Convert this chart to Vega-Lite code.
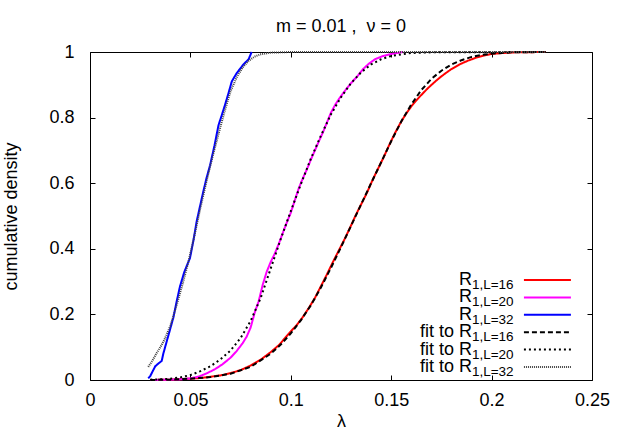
{
  "$schema": "https://vega.github.io/schema/vega-lite/v6.json",
  "autosize": {"type": "none"},
  "padding": {"left": 90, "top": 52, "right": 31, "bottom": 56},
  "width": 502,
  "height": 328,
  "background": "white",
  "title": {"text": "m = 0.01 ,\u00a0 ν = 0", "font": "Liberation Sans", "fontSize": 18, "fontWeight": "normal", "color": "black", "anchor": "middle", "baseline": "alphabetic", "offset": -7},
  "config": {
    "view": {"stroke": "black", "strokeWidth": 1},
    "axis": {"grid": false, "domain": false, "labelFont": "Liberation Sans", "titleFont": "Liberation Sans", "labelFontSize": 18, "titleFontSize": 18, "titleFontWeight": "normal", "labelColor": "black", "titleColor": "black", "tickColor": "black", "tickSize": -5, "tickWidth": 1, "labelFlush": false, "labelOverlap": false}
  },
  "layer": [
    {
      "data": {"values": [
        {"series":"R16","lam":0.030,"cd":0.000},{"series":"R16","lam":0.040,"cd":0.001},{"series":"R16","lam":0.050,"cd":0.004},{"series":"R16","lam":0.055,"cd":0.006},{"series":"R16","lam":0.060,"cd":0.010},{"series":"R16","lam":0.065,"cd":0.014},{"series":"R16","lam":0.070,"cd":0.021},{"series":"R16","lam":0.075,"cd":0.030},{"series":"R16","lam":0.080,"cd":0.044},{"series":"R16","lam":0.085,"cd":0.062},{"series":"R16","lam":0.090,"cd":0.085},{"series":"R16","lam":0.094,"cd":0.106},{"series":"R16","lam":0.097,"cd":0.127},{"series":"R16","lam":0.100,"cd":0.148},{"series":"R16","lam":0.103,"cd":0.168},{"series":"R16","lam":0.106,"cd":0.192},{"series":"R16","lam":0.109,"cd":0.220},{"series":"R16","lam":0.112,"cd":0.250},{"series":"R16","lam":0.115,"cd":0.286},{"series":"R16","lam":0.118,"cd":0.322},{"series":"R16","lam":0.121,"cd":0.360},{"series":"R16","lam":0.124,"cd":0.396},{"series":"R16","lam":0.127,"cd":0.432},{"series":"R16","lam":0.130,"cd":0.471},{"series":"R16","lam":0.132,"cd":0.498},{"series":"R16","lam":0.134,"cd":0.523},{"series":"R16","lam":0.136,"cd":0.547},{"series":"R16","lam":0.138,"cd":0.572},{"series":"R16","lam":0.140,"cd":0.600},{"series":"R16","lam":0.142,"cd":0.626},{"series":"R16","lam":0.144,"cd":0.651},{"series":"R16","lam":0.146,"cd":0.676},{"series":"R16","lam":0.148,"cd":0.703},{"series":"R16","lam":0.150,"cd":0.729},{"series":"R16","lam":0.152,"cd":0.754},{"series":"R16","lam":0.154,"cd":0.777},{"series":"R16","lam":0.156,"cd":0.798},{"series":"R16","lam":0.158,"cd":0.817},{"series":"R16","lam":0.160,"cd":0.834},{"series":"R16","lam":0.162,"cd":0.849},{"series":"R16","lam":0.165,"cd":0.869},{"series":"R16","lam":0.168,"cd":0.888},{"series":"R16","lam":0.171,"cd":0.905},{"series":"R16","lam":0.174,"cd":0.921},{"series":"R16","lam":0.177,"cd":0.935},{"series":"R16","lam":0.180,"cd":0.948},{"series":"R16","lam":0.184,"cd":0.962},{"series":"R16","lam":0.188,"cd":0.973},{"series":"R16","lam":0.192,"cd":0.982},{"series":"R16","lam":0.196,"cd":0.989},{"series":"R16","lam":0.200,"cd":0.994},{"series":"R16","lam":0.206,"cd":0.997},{"series":"R16","lam":0.212,"cd":0.999},{"series":"R16","lam":0.227,"cd":1.000},
        {"series":"R20","lam":0.030,"cd":0.000},{"series":"R20","lam":0.040,"cd":0.001},{"series":"R20","lam":0.045,"cd":0.002},{"series":"R20","lam":0.050,"cd":0.005},{"series":"R20","lam":0.054,"cd":0.010},{"series":"R20","lam":0.058,"cd":0.020},{"series":"R20","lam":0.062,"cd":0.032},{"series":"R20","lam":0.066,"cd":0.048},{"series":"R20","lam":0.070,"cd":0.068},{"series":"R20","lam":0.073,"cd":0.088},{"series":"R20","lam":0.076,"cd":0.112},{"series":"R20","lam":0.078,"cd":0.132},{"series":"R20","lam":0.080,"cd":0.160},{"series":"R20","lam":0.082,"cd":0.205},{"series":"R20","lam":0.084,"cd":0.240},{"series":"R20","lam":0.086,"cd":0.290},{"series":"R20","lam":0.088,"cd":0.330},{"series":"R20","lam":0.090,"cd":0.360},{"series":"R20","lam":0.092,"cd":0.385},{"series":"R20","lam":0.094,"cd":0.415},{"series":"R20","lam":0.096,"cd":0.448},{"series":"R20","lam":0.098,"cd":0.480},{"series":"R20","lam":0.100,"cd":0.510},{"series":"R20","lam":0.102,"cd":0.548},{"series":"R20","lam":0.104,"cd":0.585},{"series":"R20","lam":0.106,"cd":0.615},{"series":"R20","lam":0.108,"cd":0.642},{"series":"R20","lam":0.110,"cd":0.672},{"series":"R20","lam":0.112,"cd":0.700},{"series":"R20","lam":0.114,"cd":0.728},{"series":"R20","lam":0.116,"cd":0.755},{"series":"R20","lam":0.118,"cd":0.785},{"series":"R20","lam":0.120,"cd":0.815},{"series":"R20","lam":0.122,"cd":0.838},{"series":"R20","lam":0.124,"cd":0.857},{"series":"R20","lam":0.126,"cd":0.874},{"series":"R20","lam":0.128,"cd":0.890},{"series":"R20","lam":0.130,"cd":0.905},{"series":"R20","lam":0.133,"cd":0.925},{"series":"R20","lam":0.136,"cd":0.948},{"series":"R20","lam":0.139,"cd":0.965},{"series":"R20","lam":0.142,"cd":0.978},{"series":"R20","lam":0.146,"cd":0.988},{"series":"R20","lam":0.150,"cd":0.994},{"series":"R20","lam":0.156,"cd":1.000},
        {"series":"R32","lam":0.0290,"cd":0.005},{"series":"R32","lam":0.0300,"cd":0.012},{"series":"R32","lam":0.0315,"cd":0.030},{"series":"R32","lam":0.0325,"cd":0.042},{"series":"R32","lam":0.0340,"cd":0.050},{"series":"R32","lam":0.0357,"cd":0.058},{"series":"R32","lam":0.0365,"cd":0.080},{"series":"R32","lam":0.0374,"cd":0.100},{"series":"R32","lam":0.0390,"cd":0.135},{"series":"R32","lam":0.0415,"cd":0.190},{"series":"R32","lam":0.0430,"cd":0.235},{"series":"R32","lam":0.0448,"cd":0.285},{"series":"R32","lam":0.0470,"cd":0.330},{"series":"R32","lam":0.0498,"cd":0.372},{"series":"R32","lam":0.0515,"cd":0.425},{"series":"R32","lam":0.0531,"cd":0.483},{"series":"R32","lam":0.0548,"cd":0.530},{"series":"R32","lam":0.0564,"cd":0.574},{"series":"R32","lam":0.0580,"cd":0.615},{"series":"R32","lam":0.0598,"cd":0.655},{"series":"R32","lam":0.0620,"cd":0.715},{"series":"R32","lam":0.0640,"cd":0.777},{"series":"R32","lam":0.0655,"cd":0.805},{"series":"R32","lam":0.0672,"cd":0.838},{"series":"R32","lam":0.0690,"cd":0.875},{"series":"R32","lam":0.0706,"cd":0.910},{"series":"R32","lam":0.0730,"cd":0.935},{"series":"R32","lam":0.0764,"cd":0.962},{"series":"R32","lam":0.0790,"cd":0.978},{"series":"R32","lam":0.0805,"cd":1.000},
        {"series":"fit16","lam":0.030,"cd":0.000},{"series":"fit16","lam":0.040,"cd":0.001},{"series":"fit16","lam":0.050,"cd":0.004},{"series":"fit16","lam":0.060,"cd":0.009},{"series":"fit16","lam":0.070,"cd":0.019},{"series":"fit16","lam":0.080,"cd":0.040},{"series":"fit16","lam":0.090,"cd":0.080},{"series":"fit16","lam":0.095,"cd":0.108},{"series":"fit16","lam":0.100,"cd":0.142},{"series":"fit16","lam":0.105,"cd":0.182},{"series":"fit16","lam":0.110,"cd":0.228},{"series":"fit16","lam":0.115,"cd":0.282},{"series":"fit16","lam":0.120,"cd":0.342},{"series":"fit16","lam":0.125,"cd":0.405},{"series":"fit16","lam":0.130,"cd":0.470},{"series":"fit16","lam":0.135,"cd":0.535},{"series":"fit16","lam":0.140,"cd":0.600},{"series":"fit16","lam":0.145,"cd":0.664},{"series":"fit16","lam":0.150,"cd":0.728},{"series":"fit16","lam":0.155,"cd":0.788},{"series":"fit16","lam":0.160,"cd":0.840},{"series":"fit16","lam":0.165,"cd":0.884},{"series":"fit16","lam":0.170,"cd":0.918},{"series":"fit16","lam":0.175,"cd":0.943},{"series":"fit16","lam":0.180,"cd":0.962},{"series":"fit16","lam":0.185,"cd":0.975},{"series":"fit16","lam":0.190,"cd":0.985},{"series":"fit16","lam":0.195,"cd":0.991},{"series":"fit16","lam":0.200,"cd":0.995},{"series":"fit16","lam":0.210,"cd":0.999},{"series":"fit16","lam":0.227,"cd":1.000},
        {"series":"fit20","lam":0.030,"cd":0.001},{"series":"fit20","lam":0.035,"cd":0.002},{"series":"fit20","lam":0.040,"cd":0.004},{"series":"fit20","lam":0.045,"cd":0.008},{"series":"fit20","lam":0.050,"cd":0.015},{"series":"fit20","lam":0.055,"cd":0.027},{"series":"fit20","lam":0.060,"cd":0.042},{"series":"fit20","lam":0.065,"cd":0.063},{"series":"fit20","lam":0.070,"cd":0.090},{"series":"fit20","lam":0.075,"cd":0.128},{"series":"fit20","lam":0.080,"cd":0.180},{"series":"fit20","lam":0.085,"cd":0.250},{"series":"fit20","lam":0.090,"cd":0.340},{"series":"fit20","lam":0.095,"cd":0.430},{"series":"fit20","lam":0.100,"cd":0.515},{"series":"fit20","lam":0.105,"cd":0.597},{"series":"fit20","lam":0.110,"cd":0.675},{"series":"fit20","lam":0.115,"cd":0.745},{"series":"fit20","lam":0.120,"cd":0.810},{"series":"fit20","lam":0.125,"cd":0.862},{"series":"fit20","lam":0.130,"cd":0.905},{"series":"fit20","lam":0.135,"cd":0.938},{"series":"fit20","lam":0.140,"cd":0.962},{"series":"fit20","lam":0.145,"cd":0.978},{"series":"fit20","lam":0.150,"cd":0.988},{"series":"fit20","lam":0.160,"cd":0.997},{"series":"fit20","lam":0.170,"cd":0.999},{"series":"fit20","lam":0.227,"cd":1.000},
        {"series":"fit32","lam":0.029,"cd":0.040},{"series":"fit32","lam":0.031,"cd":0.058},{"series":"fit32","lam":0.033,"cd":0.080},{"series":"fit32","lam":0.035,"cd":0.100},{"series":"fit32","lam":0.037,"cd":0.122},{"series":"fit32","lam":0.040,"cd":0.165},{"series":"fit32","lam":0.043,"cd":0.225},{"series":"fit32","lam":0.046,"cd":0.290},{"series":"fit32","lam":0.049,"cd":0.360},{"series":"fit32","lam":0.052,"cd":0.440},{"series":"fit32","lam":0.055,"cd":0.525},{"series":"fit32","lam":0.058,"cd":0.605},{"series":"fit32","lam":0.061,"cd":0.680},{"series":"fit32","lam":0.064,"cd":0.750},{"series":"fit32","lam":0.067,"cd":0.818},{"series":"fit32","lam":0.070,"cd":0.880},{"series":"fit32","lam":0.073,"cd":0.922},{"series":"fit32","lam":0.076,"cd":0.953},{"series":"fit32","lam":0.079,"cd":0.973},{"series":"fit32","lam":0.082,"cd":0.986},{"series":"fit32","lam":0.085,"cd":0.993},{"series":"fit32","lam":0.090,"cd":0.998},{"series":"fit32","lam":0.100,"cd":1.000},{"series":"fit32","lam":0.227,"cd":1.000}
      ]},
      "mark": {"type": "line", "strokeWidth": 2, "clip": false},
      "encoding": {
        "x": {"field": "lam", "type": "quantitative", "scale": {"domain": [0, 0.25], "nice": false, "zero": false},
              "axis": {"orient": "bottom", "values": [0, 0.05, 0.1, 0.15, 0.2, 0.25], "format": "~g", "labelPadding": 16, "title": "λ", "titlePadding": 3}},
        "y": {"field": "cd", "type": "quantitative", "scale": {"domain": [0, 1], "nice": false},
              "axis": {"orient": "left", "values": [0, 0.2, 0.4, 0.6, 0.8, 1], "format": "~g", "labelPadding": 21, "title": "cumulative density", "titlePadding": 28}},
        "color": {"field": "series", "type": "nominal", "legend": null,
                  "scale": {"domain": ["R16", "R20", "R32", "fit16", "fit20", "fit32"], "range": ["#ff0000", "#ff00ff", "#0000ff", "#000000", "#000000", "#444444"]}},
        "strokeDash": {"field": "series", "type": "nominal", "legend": null,
                  "scale": {"domain": ["R16", "R20", "R32", "fit16", "fit20", "fit32"], "range": [[1, 0], [1, 0], [1, 0], [5, 3], [2, 3], [1, 1]]}}
      }
    },
    {
      "data": {"values": [{"lam": 0, "cd": 0}]},
      "mark": {"type": "point", "opacity": 0},
      "encoding": {
        "x": {"field": "lam", "type": "quantitative", "axis": {"orient": "top", "values": [0, 0.05, 0.1, 0.15, 0.2, 0.25], "labels": false, "title": null}},
        "y": {"field": "cd", "type": "quantitative", "scale": {"domain": [0, 1], "nice": false},
              "axis": {"orient": "right", "values": [0, 0.2, 0.4, 0.6, 0.8, 1], "labels": false, "title": null}}
      }
    },
    {
      "data": {"values": [
        {"series": "R16", "main": "R", "sub": "1,L=16", "k": 0},
        {"series": "R20", "main": "R", "sub": "1,L=20", "k": 1},
        {"series": "R32", "main": "R", "sub": "1,L=32", "k": 2},
        {"series": "fit16", "main": "fit to R", "sub": "1,L=16", "k": 3},
        {"series": "fit20", "main": "fit to R", "sub": "1,L=20", "k": 4},
        {"series": "fit32", "main": "fit to R", "sub": "1,L=32", "k": 5}
      ]},
      "encoding": {
        "y": {"field": "k", "type": "ordinal", "scale": {"type": "point", "range": [228, 315], "padding": 0}, "axis": null}
      },
      "layer": [
        {
          "mark": {"type": "rule", "strokeWidth": 2},
          "encoding": {
            "x": {"datum": 0.2161, "type": "quantitative", "axis": null},
            "x2": {"datum": 0.2395},
            "color": {"field": "series", "type": "nominal", "legend": null},
            "strokeDash": {"field": "series", "type": "nominal", "legend": null}
          }
        },
        {
          "mark": {"type": "text", "align": "right", "baseline": "alphabetic", "dy": 5, "font": "Liberation Sans", "fontSize": 18, "color": "black"},
          "encoding": {
            "x": {"datum": 0.1902, "type": "quantitative", "axis": null},
            "text": {"field": "main"}
          }
        },
        {
          "mark": {"type": "text", "align": "left", "baseline": "alphabetic", "dy": 9, "font": "Liberation Sans", "fontSize": 13.5, "color": "black"},
          "encoding": {
            "x": {"datum": 0.1902, "type": "quantitative", "axis": null},
            "text": {"field": "sub"}
          }
        }
      ]
    }
  ],
  "resolve": {"scale": {"y": "independent"}, "axis": {"x": "independent", "y": "independent"}}
}
